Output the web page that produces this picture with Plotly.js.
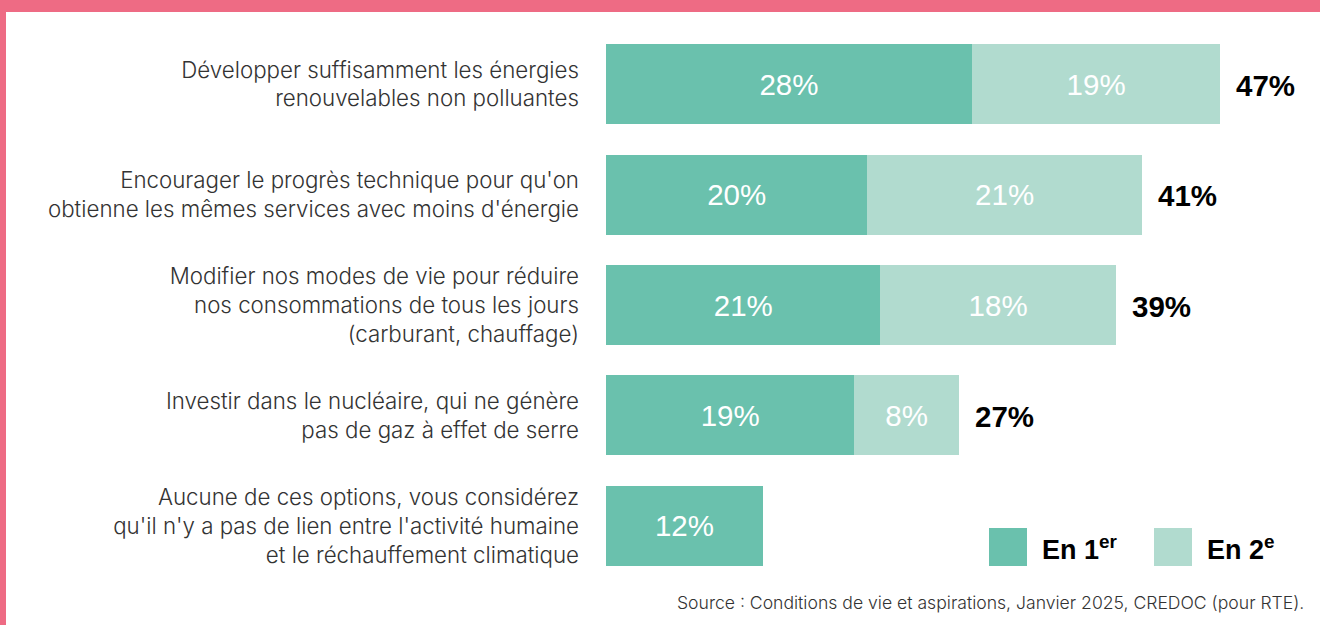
<!DOCTYPE html>
<html><head><meta charset="utf-8">
<script src="https://cdn.plot.ly/plotly-3.0.1.min.js"></script>
<style>
html,body{margin:0;padding:0;background:#EE6B84;width:1320px;height:625px;overflow:hidden}
#chart{position:absolute;left:6px;top:12px;width:1314px;height:613px;background:#fff}
</style></head>
<body><div id="chart"></div>
<script>
const categories = [
  "Développer suffisamment les énergies<br>renouvelables non polluantes",
  "Encourager le progrès technique pour qu'on<br>obtienne les mêmes services avec moins d'énergie",
  "Modifier nos modes de vie pour réduire<br>nos consommations de tous les jours<br>(carburant, chauffage)",
  "Investir dans le nucléaire, qui ne génère<br>pas de gaz à effet de serre",
  "Aucune de ces options, vous considérez<br>qu'il n'y a pas de lien entre l'activité humaine<br>et le réchauffement climatique"
];
const first = [28, 20, 21, 19, 12];
const second = [19, 21, 18, 8, null];
const totals = [47, 41, 39, 27, null];
const seriesNames = ["En 1<sup>er</sup>", "En 2<sup>e</sup>"];
const colors = ["#6AC1AD", "#B1DBCF"];
const sourceText = "Source : Conditions de vie et aspirations, Janvier 2025, CREDOC (pour RTE).";

const W = 1314, H = 613, ML = 600, MR = 0, MT = 17, MB = 44;
const PW = W - ML - MR, PH = H - MT - MB;
const px = x => (x - 6 - ML) / PW;
const py = y => 1 - (y - 12 - MT) / PH;

const font = "'Liberation Sans', Arial, sans-serif";
const lightFont = "Inter, 'Liberation Sans', sans-serif";
const traces = [first, second].map((vals, i) => ({
  type: 'bar', orientation: 'h', y: categories, x: vals, name: seriesNames[i],
  marker: {color: colors[i]},
  text: vals.map(v => v == null ? '' : v + '%'),
  textposition: 'inside', insidetextanchor: 'middle',
  textfont: {color: '#fff', size: 29.5, family: font},
  hoverinfo: 'skip', showlegend: false
}));

const annotations = [];
totals.forEach((t, i) => {
  if (t == null) return;
  annotations.push({x: t, y: categories[i], xref: 'x', yref: 'y', text: t + '%',
    showarrow: false, xanchor: 'left', xshift: 14, yshift: -1,
    font: {size: 29.5, color: '#000', family: font, weight: 'bold'}});
});
// legend
const shapes = [];
const legendItems = [[989, 1040], [1154, 1205]];
legendItems.forEach(([sx, tx], i) => {
  shapes.push({type: 'rect', xref: 'paper', yref: 'paper', x0: px(sx), x1: px(sx + 38),
    y0: py(566), y1: py(528), fillcolor: colors[i], line: {width: 0}});
  annotations.push({xref: 'paper', yref: 'paper', x: px(tx), y: py(548), text: seriesNames[i],
    showarrow: false, xanchor: 'left', yanchor: 'middle',
    font: {size: 27, color: '#000', family: font, weight: 'bold'}});
});
annotations.push({xref: 'paper', yref: 'paper', x: px(1306), y: py(602), text: sourceText,
  showarrow: false, xanchor: 'right', yanchor: 'middle',
  font: {size: 17.6, color: '#333', family: lightFont, weight: 300}});

const layout = {
  width: W, height: H, margin: {l: ML, r: MR, t: MT, b: MB},
  paper_bgcolor: '#fff', plot_bgcolor: '#fff',
  barmode: 'stack', bargap: 0.276,
  xaxis: {range: [0, PW / 13.07], visible: false, fixedrange: true},
  yaxis: {autorange: 'reversed', showgrid: false, zeroline: false, showline: false, ticks: '',
    ticklabelstandoff: 26, tickfont: {size: 22.3, color: '#333', family: lightFont, weight: 300}},
  shapes, annotations, showlegend: false,
  font: {family: font}
};
Plotly.newPlot('chart', traces, layout, {displayModeBar: false, staticPlot: true});
</script></body></html>
